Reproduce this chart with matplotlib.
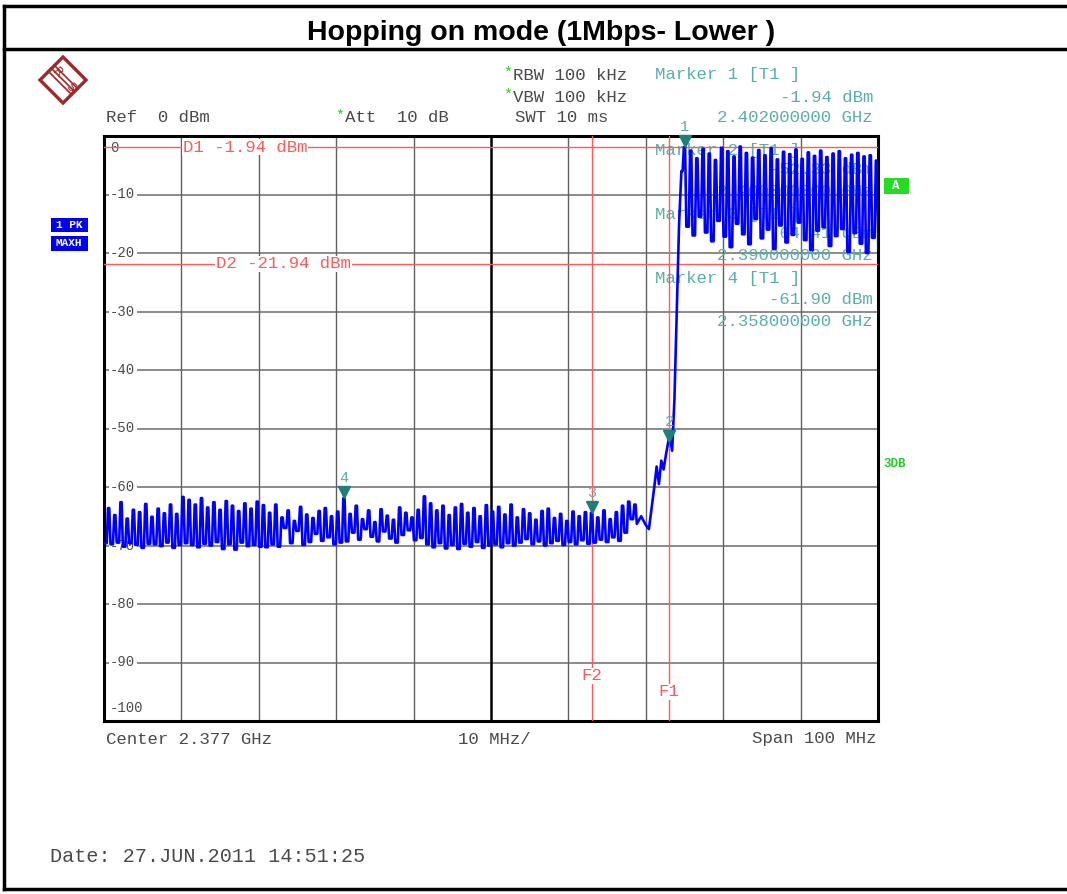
import matplotlib
matplotlib.use('Agg')
import matplotlib.pyplot as plt
from matplotlib.patches import Polygon, Rectangle
from matplotlib.lines import Line2D
from matplotlib.transforms import offset_copy, blended_transform_factory

# Spectrum analyzer screen: Hopping on mode (1Mbps- Lower )
title = 'Hopping on mode (1Mbps- Lower )'

center_ghz = 2.377
span_ghz = 0.100
ref_db = 0
db_per_div = 10
y_tick_labels = ['0', '-10', '-20', '-30', '-40', '-50', '-60', '-70', '-80', '-90', '-100']

# display lines / frequency lines
d1_db = -1.94
d2_db = -21.94
f1_ghz = 2.400
f2_ghz = 2.390

# markers
marker_ids = ['1', '2', '3', '4']
marker_freq = [2.402, 2.400, 2.390, 2.358]
marker_db = [-1.94, -52.33, -64.41, -61.90]

# trace: noise floor comb below the band (one peak + following trough per step)
noise_start_ghz = 2.3276
noise_step_ghz = 0.0008
noise_peaks = [
    -63.6, -64.8, -62.6, -65.4, -63.9, -64.3, -62.9, -65.1, -63.7, -64.5, -63.0, -64.6,
    -61.7, -62.2, -63.0, -61.9, -63.5, -62.6, -63.9, -62.4, -63.2, -64.1, -62.8, -63.7, -62.5,
    -63.1, -64.4, -63.0, -65.2, -64.0, -65.8, -63.4, -64.7, -65.3, -64.1, -63.6, -65.0, -64.2,
    -61.9,
    -64.6, -63.2, -65.5, -64.0, -66.0, -63.8, -64.9, -65.6, -63.5, -64.4, -65.2, -63.9,
    -61.6, -62.8, -64.0, -63.2, -64.8, -63.5, -62.9, -64.4, -63.6, -65.0, -63.1, -64.2,
    -63.4, -64.7, -63.0, -65.2, -63.8, -64.5, -65.6, -64.1, -63.7, -65.3, -64.6, -65.8, -64.2, -65.0, -64.3,
    -64.4,
    -65.2, -64.0, -65.5, -64.3, -63.2, -62.5, -63.0,
]
noise_troughs = [
    -69.8, -69.5, -70.2, -69.6, -69.9, -70.4, -69.7, -69.8, -70.1, -69.5, -70.4, -69.9,
    -69.6, -69.9, -70.3, -69.7, -70.0, -69.4, -70.6, -69.8, -70.7, -69.5, -70.1, -69.9, -70.2,
    -70.3, -69.8, -70.2, -67.0, -69.6, -67.5, -69.9, -69.4, -68.0, -69.2, -68.6, -69.8, -69.5,
    -69.3,
    -67.8, -69.0, -67.2, -68.5, -69.3, -67.6, -68.8, -69.5, -68.2, -67.4, -69.1, -68.7,
    -69.8, -70.3, -69.6, -70.5, -69.9, -70.6, -69.7, -70.2, -69.4, -70.4, -70.0, -69.8,
    -70.3, -69.6, -70.0, -69.5, -68.9, -69.8, -69.3, -70.0, -69.6, -69.2, -69.9, -69.4, -69.8, -69.1, -69.7,
    -69.5,
    -69.0, -69.4, -68.6, -69.2, -67.8, -65.5, -66.3,
]

# band edge rise
rise_freq = [2.3964, 2.3970, 2.3974, 2.3978, 2.3981, 2.3984, 2.3987, 2.3990, 2.3993,
             2.3996, 2.3999, 2.4001, 2.4004, 2.4007, 2.4010, 2.4013, 2.4016]
rise_db = [-65.0, -66.5, -67.2, -63.0, -60.0, -56.5, -59.5, -55.5, -57.0,
           -54.5, -52.3, -51.0, -53.8, -45.0, -30.0, -15.0, -6.0]

# hopping channels in band
hop_start_ghz = 2.402
hop_step_ghz = 0.0008
hop_peaks = [-1.94, -2.5, -3.8, -2.2, -3.0, -4.1, -2.0, -2.6, -3.5, -1.8, -2.9, -3.7,
             -2.4, -3.3, -2.1, -4.0, -2.7, -3.1, -2.3, -3.9, -2.8, -3.4, -2.5, -3.6,
             -3.0, -2.6, -3.8, -3.2, -2.9, -3.5, -3.3, -4.2]
hop_troughs = [-15.5, -17.0, -13.8, -16.5, -18.0, -14.5, -17.2, -19.0, -15.0, -16.8, -18.5, -14.2,
               -17.5, -16.0, -19.3, -15.3, -18.2, -16.9, -14.8, -17.8, -19.5, -16.2, -15.6, -18.8,
               -17.1, -15.9, -19.8, -16.6, -18.4, -20.0, -17.4, -19.2]


def comb(start, step, peaks, troughs, lead):
    f, v = [], []
    prev = lead
    for i, (p, t) in enumerate(zip(peaks, troughs)):
        c = start + i * step
        f += [c - 0.3 * step, c - 0.1 * step, c + 0.1 * step, c + 0.3 * step]
        v += [prev, p, p, t]
        prev = t
    return f, v


nf, nv = comb(noise_start_ghz, noise_step_ghz, noise_peaks, noise_troughs, -69.6)
hf, hv = comb(hop_start_ghz, hop_step_ghz, hop_peaks, hop_troughs, rise_db[-1])
trace_f = [center_ghz - span_ghz / 2] + nf + rise_freq + hf
trace_v = [-69.6] + nv + rise_db + hv

W, H = 1067, 894
fig = plt.figure(figsize=(W / 100, H / 100), dpi=100)
ov = fig.add_axes([0, 0, 1, 1])
ov.set_xlim(0, W)
ov.set_ylim(H, 0)
ov.axis('off')

L, R, T, B = 104, 878, 136, 721
ax = fig.add_axes([L / W, 1 - B / H, (R - L) / W, (B - T) / H])
ax.set_zorder(2)
ax.set_xlim(center_ghz - span_ghz / 2, center_ghz + span_ghz / 2)
ax.set_ylim(ref_db - 10 * db_per_div, ref_db)
ax.set_xticks([])
ax.set_yticks([])
for s in ax.spines.values():
    s.set_linewidth(2.2)
    s.set_color('black')

mono = 'Liberation Mono'
grey = '#4a4a4a'
teal_txt = '#5aafaa'
teal = '#1f7f78'
red = '#ff5a5a'
px_y = blended_transform_factory(ax.transData, ov.transData)

# grid
for k in range(1, 10):
    ax.axhline(ref_db - k * db_per_div, color='#8a8a8a', lw=1.4, zorder=1)
for k in range(1, 10):
    x = center_ghz - span_ghz / 2 + k * span_ghz / 10
    ax.axvline(x, color='black' if k == 5 else '#606060', lw=1.8 if k == 5 else 1.0, zorder=1)

# y labels inside the grid
for k, lab in enumerate(y_tick_labels):
    yv = ref_db - k * db_per_div
    if k == 0:
        yv -= 2.0
    if k == 10:
        yv += 2.2
    ax.text(0.008, yv, lab, transform=ax.get_yaxis_transform(), fontsize=10, family=mono,
            color=grey, va='center', ha='left', zorder=2,
            bbox=dict(facecolor='white', edgecolor='none', pad=1))

# marker readouts under the trace
readouts = [
    ('Marker 2 [T1 ]', 150, 'l'), ('-52.33 dBm', 170, 'r'), ('2.400000000 GHz', 191, 'r'),
    ('Marker 3 [T1 ]', 214, 'l'), ('-64.41 dBm', 234, 'r'), ('2.390000000 GHz', 256, 'r'),
    ('Marker 4 [T1 ]', 279, 'l'), ('-61.90 dBm', 300, 'r'), ('2.358000000 GHz', 321, 'r'),
]
for txt, yy, al in readouts:
    ax.text(655 if al == 'l' else 873, yy, txt, transform=ov.transData, fontsize=12.5, family=mono,
            color=teal_txt, ha='left' if al == 'l' else 'right', va='center', zorder=1.5)

# display lines and frequency lines
ax.axhline(d1_db, color=red, lw=1.0, zorder=3)
ax.axhline(d2_db, color=red, lw=1.0, zorder=3)
ax.axvline(f1_ghz, color=red, lw=1.0, zorder=3)
ax.axvline(f2_ghz, color=red, lw=1.0, zorder=3)
ax.text(183, 147, 'D1 -1.94 dBm', transform=ov.transData, fontsize=12.5, family=mono, color=red,
        va='center', ha='left', zorder=3, bbox=dict(facecolor='white', edgecolor='none', pad=0.5))
ax.text(216, 264, 'D2 -21.94 dBm', transform=ov.transData, fontsize=12.5, family=mono, color=red,
        va='center', ha='left', zorder=3, bbox=dict(facecolor='white', edgecolor='none', pad=0.5))
ax.text(f2_ghz, 676, 'F2', transform=px_y, fontsize=12.5, family=mono, color=red,
        ha='center', va='center', zorder=3, bbox=dict(facecolor='white', edgecolor='none', pad=0.5))
ax.text(f1_ghz, 692, 'F1', transform=px_y, fontsize=12.5, family=mono, color=red,
        ha='center', va='center', zorder=3, bbox=dict(facecolor='white', edgecolor='none', pad=0.5))

# trace
ax.plot(trace_f, trace_v, color='#0000ff', lw=1.9, zorder=4)

# markers
tri = offset_copy(ax.transData, fig=fig, y=6, units='dots')
num = offset_copy(ax.transData, fig=fig, y=20, units='dots')
for mid, mf, md in zip(marker_ids, marker_freq, marker_db):
    ax.plot([mf], [md], marker='v', color=teal, markersize=9, transform=tri, zorder=5, clip_on=False)
    ax.text(mf, md, mid, transform=num, fontsize=11, family=mono, color=teal_txt,
            ha='center', va='center', zorder=5, clip_on=False)

# page frame and title
ov.add_line(Line2D([4, 4], [6, 889], color='black', lw=2.5))
ov.add_line(Line2D([4, W], [6, 6], color='black', lw=2.5))
ov.add_line(Line2D([4, W], [49, 49], color='black', lw=2.5))
ov.add_line(Line2D([4, W], [889, 889], color='black', lw=2.5))
ov.text(541, 33, title, fontsize=20.5, family='Liberation Sans', weight='bold', ha='center', va='center')

# header texts
hdr = dict(fontsize=12.5, family=mono, color=grey, va='center')
ov.text(106, 118, 'Ref  0 dBm', ha='left', **hdr)
ov.text(335, 116, '*', ha='left', fontsize=11, family=mono, color='#22cc22', va='center')
ov.text(345, 118, 'Att  10 dB', ha='left', **hdr)
ov.text(503, 73, '*', ha='left', fontsize=11, family=mono, color='#22cc22', va='center')
ov.text(513, 75, 'RBW 100 kHz', ha='left', **hdr)
ov.text(503, 95, '*', ha='left', fontsize=11, family=mono, color='#22cc22', va='center')
ov.text(513, 97, 'VBW 100 kHz', ha='left', **hdr)
ov.text(515, 118, 'SWT 10 ms', ha='left', **hdr)
ov.text(655, 75, 'Marker 1 [T1 ]', ha='left', fontsize=12.5, family=mono, color=teal_txt, va='center')
ov.text(873, 97, '-1.94 dBm', ha='right', fontsize=12.5, family=mono, color=teal_txt, va='center')
ov.text(873, 118, '2.402000000 GHz', ha='right', fontsize=12.5, family=mono, color=teal_txt, va='center')

# footer texts
ov.text(106, 739, 'Center 2.377 GHz', ha='left', **hdr)
ov.text(494, 739, '10 MHz/', ha='center', **hdr)
ov.text(876, 739, 'Span 100 MHz', ha='right', **hdr)
ov.text(50, 856, 'Date: 27.JUN.2011 14:51:25', ha='left', fontsize=14.5, family=mono, color=grey, va='center')

# side boxes
ov.add_patch(Rectangle((51, 218), 37, 14, facecolor='#0000ee', edgecolor='none'))
ov.add_patch(Rectangle((51, 236), 37, 15, facecolor='#0000ee', edgecolor='none'))
ov.text(69, 225, '1 PK', fontsize=8, family=mono, weight='bold', color='white', ha='center', va='center')
ov.text(69, 243.5, 'MAXH', fontsize=8, family=mono, weight='bold', color='white', ha='center', va='center')
ov.add_patch(Rectangle((884, 178), 25, 16, facecolor='#22dd22', edgecolor='none'))
ov.text(896, 186, 'A', fontsize=9, family=mono, weight='bold', color='white', ha='center', va='center')
ov.text(883, 464, '3DB', fontsize=9, family=mono, weight='bold', color='#22cc22', ha='left', va='center')

# R&S logo
cx, cy, r = 63, 80, 23
ov.add_patch(Polygon([(cx, cy - r), (cx + r, cy), (cx, cy + r), (cx - r, cy)], closed=True,
                     facecolor='white', edgecolor='#a02828', lw=2.4))
for d in (-3, 0, 3):
    ov.add_line(Line2D([cx - 12 + d, cx + 12 + d], [cy - 12 - d, cy + 12 - d], color='#a02828', lw=1.2))
ov.text(cx - 6, cy - 7, 'R', fontsize=9, color='#a02828', ha='center', va='center', rotation=-45)
ov.text(cx + 7, cy + 7, 'S', fontsize=9, color='#a02828', ha='center', va='center', rotation=-45)

fig.savefig('out.png', dpi=100)
